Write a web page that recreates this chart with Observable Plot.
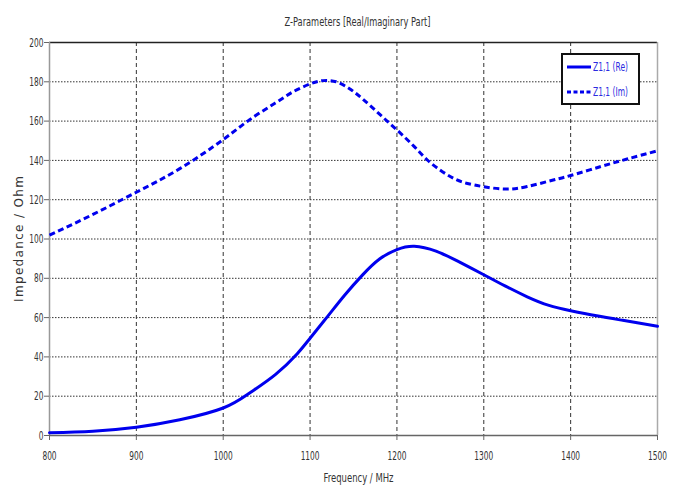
<!DOCTYPE html>
<html>
<head>
<meta charset="utf-8">
<script src="https://cdn.jsdelivr.net/npm/d3@7"></script>
<script src="https://cdn.jsdelivr.net/npm/@observablehq/plot@0.6"></script>
<style>
  html, body { margin: 0; padding: 0; background: #fff; }
  #wrap { position: relative; width: 688px; height: 493px; }
  #legend {
    position: absolute; left: 561px; top: 53px; width: 79px; height: 52px;
    box-sizing: border-box; border: 2px solid #111; background: #fff;
    font-family: "DejaVu Sans", sans-serif;
    font-size: 13px; color: #2b2be0;
  }
  #legend .row { position: absolute; left: 0; height: 14px; line-height: 14px; width: 75px; }
  #legend svg { position: absolute; left: 3px; top: 5px; }
  #legend span { position: absolute; left: 30px; top: 0; white-space: nowrap;
    transform: scaleX(0.58); transform-origin: 0 50%; }
</style>
</head>
<body>
<div id="wrap"></div>
<script>
// ---- data ----
const title = "Z-Parameters [Real/Imaginary Part]";
const xLabel = "Frequency / MHz";
const yLabel = "Impedance / Ohm";
const seriesNames = ["Z1,1 (Re)", "Z1,1 (Im)"];
const xTicks = [800, 900, 1000, 1100, 1200, 1300, 1400, 1500];
const yTicks = [0, 20, 40, 60, 80, 100, 120, 140, 160, 180, 200];

const freqRe = [800, 850, 900, 950, 1000, 1030, 1060, 1085, 1100, 1120, 1140, 1160, 1180, 1200, 1220, 1245, 1270, 1300, 1325, 1350, 1375, 1400, 1430, 1460, 1500];
const re     = [1.4, 2.2, 4.2, 8.0, 14.0, 21.5, 31.0, 41.5, 49.5, 60.5, 71.5, 81.5, 89.8, 94.6, 96.3, 93.8, 88.7, 81.8, 76.0, 70.6, 66.2, 63.5, 60.9, 58.6, 55.6];

const freqIm = [800, 850, 900, 950, 1000, 1030, 1060, 1080, 1100, 1115, 1130, 1145, 1160, 1180, 1200, 1220, 1235, 1250, 1265, 1280, 1300, 1325, 1350, 1380, 1400, 1435, 1465, 1500];
const im     = [102.0, 112.5, 123.8, 135.8, 150.6, 160.6, 169.2, 174.8, 178.9, 180.6, 180.0, 176.6, 171.5, 163.5, 155.5, 147.0, 140.2, 135.0, 130.9, 128.4, 126.6, 125.4, 126.7, 130.0, 132.3, 136.9, 140.7, 144.9];

// ---- build tables ----
const reData = freqRe.map((f, i) => ({f, v: re[i]}));
const imData = freqIm.map((f, i) => ({f, v: im[i]}));
const blue = "#0000ee";

const chart = Plot.plot({
  width: 688,
  height: 493,
  marginLeft: 49,
  marginRight: 31,
  marginTop: 42,
  marginBottom: 58,
  style: {
    fontFamily: "'DejaVu Sans', sans-serif",
    fontSize: "13px",
    color: "#333",
    background: "#fff"
  },
  x: {domain: [800, 1500]},
  y: {domain: [0, 200]},
  marks: [
    // grid
    Plot.ruleX(xTicks.slice(1, -1), {stroke: "#333", strokeWidth: 1, strokeDasharray: "4,3"}),
    Plot.ruleY(yTicks.slice(1, -1), {stroke: "#333", strokeWidth: 1, strokeDasharray: "1.5,1.5"}),
    // frame
    Plot.ruleY([200], {stroke: "#222", strokeWidth: 1.5}),
    Plot.ruleX([1500], {stroke: "#aaa", strokeWidth: 1.5}),
    Plot.ruleX([800], {stroke: "#999", strokeWidth: 1.5}),
    Plot.ruleY([0], {stroke: "#666", strokeWidth: 1.5}),
    // axes
    Plot.axisX({ticks: xTicks, tickFormat: d => String(d), tickSize: 5, tickPadding: 10, stroke: "#666", label: null}),
    Plot.axisY({ticks: yTicks, tickFormat: d => String(d), tickSize: 5, tickPadding: 1, stroke: "#666", label: null}),
    // curves
    Plot.line(reData, {x: "f", y: "v", stroke: blue, strokeWidth: 3, curve: "natural"}),
    Plot.line(imData, {x: "f", y: "v", stroke: blue, strokeWidth: 3, strokeDasharray: "6,3.5", strokeLinecap: "butt", curve: "natural"}),
    // titles
    Plot.text([title], {frameAnchor: "top", dy: -26, dx: 4, text: d => d, fill: "#333", className: "title"}),
    Plot.text([xLabel], {frameAnchor: "bottom", dy: 46, dx: 5, text: d => d, fill: "#333", className: "xlab"}),
    Plot.text([yLabel], {frameAnchor: "left", textAnchor: "middle", dx: -30, rotate: -90, text: d => d, fill: "#333",
      fontSize: 12, className: "ylab"})
  ]
});

const wrap = document.getElementById("wrap");
wrap.appendChild(chart);

// horizontally condensed lettering (as in the reference)
function squeeze(sel, fn) {
  chart.querySelectorAll(sel).forEach(t => {
    const len = t.getComputedTextLength();
    t.setAttribute("textLength", fn(len).toFixed(1));
    t.setAttribute("lengthAdjust", "spacingAndGlyphs");
  });
}
squeeze("g[aria-label='x-axis tick label'] text, g[aria-label='y-axis tick label'] text", len => len * 0.57);
squeeze(".title text", () => 146);
squeeze(".xlab text", () => 70);
chart.querySelectorAll(".ylab text").forEach(t => {
  t.setAttribute("textLength", "126");
  t.setAttribute("lengthAdjust", "spacing");
});

// legend (HTML overlay)
const legend = document.createElement("div");
legend.id = "legend";
seriesNames.forEach((name, i) => {
  const row = document.createElement("div");
  row.className = "row";
  row.style.top = (5.3 + i * 24.4) + "px";
  row.innerHTML = `<svg width="26" height="4"><line x1="1" y1="2" x2="25" y2="2" stroke="${blue}" stroke-width="3" ${i === 1 ? 'stroke-dasharray="4,2.5"' : ''}/></svg><span>${name}</span>`;
  legend.appendChild(row);
});
wrap.appendChild(legend);
</script>
</body>
</html>
